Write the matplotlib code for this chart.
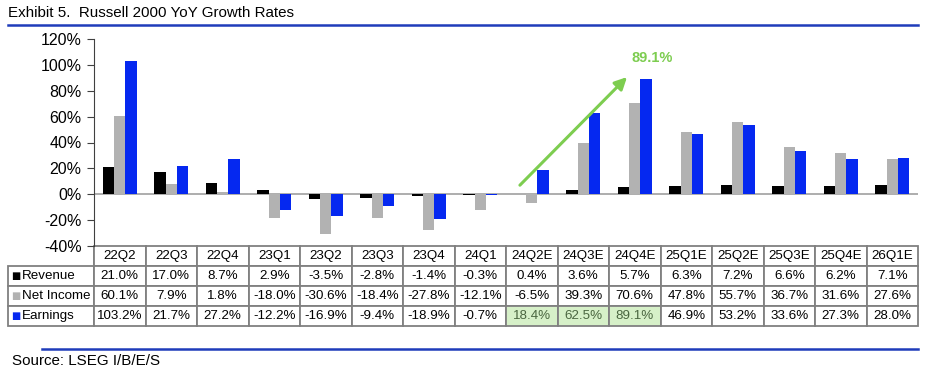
import matplotlib
matplotlib.use("Agg")
import matplotlib.pyplot as plt
import numpy as np

quarters = ["22Q2", "22Q3", "22Q4", "23Q1", "23Q2", "23Q3", "23Q4", "24Q1",
            "24Q2E", "24Q3E", "24Q4E", "25Q1E", "25Q2E", "25Q3E", "25Q4E", "26Q1E"]
revenue = [21.0, 17.0, 8.7, 2.9, -3.5, -2.8, -1.4, -0.3,
           0.4, 3.6, 5.7, 6.3, 7.2, 6.6, 6.2, 7.1]
net_income = [60.1, 7.9, 1.8, -18.0, -30.6, -18.4, -27.8, -12.1,
              -6.5, 39.3, 70.6, 47.8, 55.7, 36.7, 31.6, 27.6]
earnings = [103.2, 21.7, 27.2, -12.2, -16.9, -9.4, -18.9, -0.7,
            18.4, 62.5, 89.1, 46.9, 53.2, 33.6, 27.3, 28.0]
series_names = ["Revenue", "Net Income", "Earnings"]
highlight = ["24Q2E", "24Q3E", "24Q4E"]

C_REV = "#000000"
C_NI = "#b2b2b2"
C_EARN = "#0528f0"
C_BLUE_LINE = "#1f3cba"
C_GREEN = "#7dcd50"
C_GRID = "#808080"

plt.rcParams["font.family"] = ["Liberation Sans", "DejaVu Sans"]

W, H = 936, 370
fig = plt.figure(figsize=(W / 100, H / 100), dpi=100)
ax_l, ax_r, ax_t, ax_b = 94, 918, 39, 246
ax = fig.add_axes([ax_l / W, 1 - ax_b / H, (ax_r - ax_l) / W, (ax_b - ax_t) / H])

x = np.arange(len(quarters))
bw = 0.22
ax.bar(x - bw, revenue, bw, color=C_REV)
ax.bar(x, net_income, bw, color=C_NI)
ax.bar(x + bw, earnings, bw, color=C_EARN)
ax.axhline(0, color="#a0a0a0", lw=1.2, zorder=0.5)

ax.set_xlim(-0.5, len(quarters) - 0.5)
ax.set_ylim(-40, 120)
yt = np.arange(-40, 121, 20)
ax.set_yticks(yt)
ax.set_yticklabels([f"{v}%" for v in yt], fontsize=11.5)
ax.set_xticks([])
for s in ["top", "right", "bottom"]:
    ax.spines[s].set_visible(False)
ax.spines["left"].set_color("#404040")
ax.tick_params(axis="y", direction="out", length=5, color="#404040", pad=4)

# arrow pointing to the peak estimate
i_peak = quarters.index("24Q4E")
ax.annotate("", xy=(i_peak - 0.15, earnings[i_peak] + 1.5), xytext=(7.77, 7),
            arrowprops=dict(arrowstyle="-|>", color=C_GREEN, lw=2.2,
                            mutation_scale=18, shrinkA=0, shrinkB=0))
ax.text(i_peak + 0.33, 105, f"{earnings[i_peak]:.1f}%", color=C_GREEN,
        fontsize=10.5, fontweight="bold", ha="center", va="center")

# data table
rows = [revenue, net_income, earnings]
cell_text = [[""] + quarters]
for name, vals in zip(series_names, rows):
    cell_text.append([name] + [f"{v:.1f}%" for v in vals])

lab_w = 86
col_w = (ax_r - ax_l) / len(quarters)
widths = [lab_w] + [col_w] * len(quarters)
tbl_h = 80 / (ax_b - ax_t)
lab_frac = lab_w / (ax_r - ax_l)
tbl = ax.table(cellText=cell_text, colWidths=widths, cellLoc="center",
               bbox=[-lab_frac, -tbl_h, 1 + lab_frac, tbl_h])
tbl.auto_set_font_size(False)
tbl.set_fontsize(9.6)
for (r, c), cell in tbl.get_celld().items():
    cell.set_edgecolor(C_GRID)
    cell.set_linewidth(1.3)
    if r == 0 and c == 0:
        cell.visible_edges = "R"
    if c == 0 and r > 0:
        cell.get_text().set_ha("left")
        cell.PAD = 0.16
        cell._loc = "left"
    if r == 3 and c > 0 and quarters[c - 1] in highlight:
        cell.set_facecolor("#d6f0c8")
        cell.get_text().set_color("#4a6640")

# colored legend squares in the label column
for k, col in enumerate([C_REV, C_NI, C_EARN]):
    yc = -tbl_h + tbl_h * (2.5 - k) / 4
    ax.text(-lab_frac + 0.0035, yc, "\u25a0", color=col, fontsize=7,
            transform=ax.transAxes, ha="left", va="center", family="DejaVu Sans")

# title, rules and source
fig.text(8 / W, 1 - 13 / H, "Exhibit 5.  Russell 2000 YoY Growth Rates",
         fontsize=10.9, ha="left", va="center")
fig.add_artist(plt.Line2D([8 / W, 918 / W], [1 - 25 / H] * 2, color=C_BLUE_LINE, lw=1.8))
fig.add_artist(plt.Line2D([42 / W, 918 / W], [1 - 349 / H] * 2, color=C_BLUE_LINE, lw=1.8))
fig.text(12 / W, 1 - 361 / H, "Source: LSEG I/B/E/S", fontsize=10.9, ha="left", va="center")

fig.savefig("out.png", dpi=100)
